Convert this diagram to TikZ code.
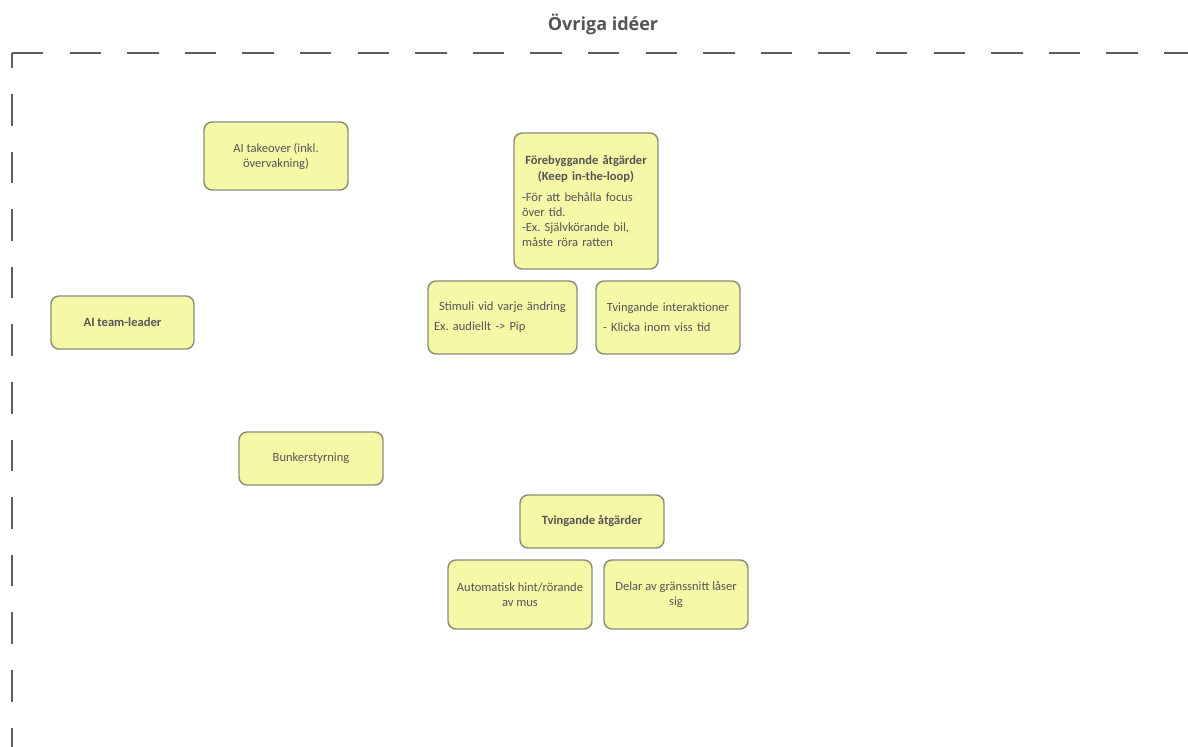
\documentclass[tikz,border=0pt]{standalone}
\usepackage{fontspec}
\setmainfont{Carlito}
\newfontfamily\titlefont{Open Sans}
\definecolor{boxfill}{HTML}{F4F8A7}
\definecolor{boxedge}{HTML}{8E8E78}
\definecolor{ink}{HTML}{555555}
\definecolor{framegray}{HTML}{5E5E5E}
\frenchspacing
\begin{document}
\begin{tikzpicture}[x=0.75pt,y=-0.75pt,
  idea/.style={draw=boxedge, fill=boxfill, line width=1.1pt, rounded corners=6pt,
    inner sep=0pt, text=ink, font=\fontsize{9.4}{11.25}\selectfont},
  hdr/.style={font=\fontsize{9.4}{12}\selectfont\bfseries},
  frameline/.style={draw=framegray, line width=2.2pt,
    dash pattern=on 23.6pt off 19.6pt}]
\useasboundingbox (0,0) rectangle (1188,746);

% title
\node[text=ink, font=\titlefont\fontsize{13.5}{16}\selectfont\bfseries] (title) at (603,24) {Övriga idéer};

% dashed frame (open to the right and bottom)
\coordinate (corner) at (12,53);
\coordinate (frameright) at (1230,53);
\coordinate (framebottom) at (12,790);
\draw[frameline] (corner) -- (frameright);
\draw[frameline, dash phase=12.4pt] (corner) -- (framebottom);

% idea notes
\node[idea, minimum width=108pt, minimum height=51pt, align=center] (takeover) at (276,156)
  {AI takeover (inkl.\\övervakning)};

\node[idea, minimum width=108pt, minimum height=102pt, text width=96pt] (prevent) at (586,201)
  {{\centering\fontsize{9.4}{12}\selectfont\bfseries Förebyggande åtgärder\\(Keep in-the-loop)\par}%
   \vspace{4.5pt}\raggedright
   -För att behålla focus\\över tid.\\-Ex. Självkörande bil,\\måste röra ratten\par};

\node[idea, minimum width=111.75pt, minimum height=54.75pt, text width=102.75pt] (stimuli) at (502.5,317.5)
  {{\centering Stimuli vid varje ändring\par}\vspace{3.75pt}\raggedright
   Ex. audiellt -{}> Pip\par};

\node[idea, minimum width=108pt, minimum height=54.75pt, text width=97.5pt] (interact) at (668,317.5)
  {{\centering Tvingande interaktioner\par}\vspace{3.75pt}\raggedright
   - Klicka inom viss tid\par};

\node[idea, hdr, minimum width=107.25pt, minimum height=39.75pt] (leader) at (122.5,322.5)
  {AI team-leader};

\node[idea, minimum width=108pt, minimum height=39.75pt] (bunker) at (311,458.5)
  {Bunkerstyrning};

\node[idea, hdr, minimum width=108pt, minimum height=39.75pt] (forcing) at (592,521.5)
  {Tvingande åtgärder};

\node[idea, minimum width=108pt, minimum height=51.75pt, align=center] (hint) at (520,594.5)
  {Automatisk hint/rörande\\av mus};

\node[idea, minimum width=108pt, minimum height=51.75pt, align=center] (lock) at (676,594.5)
  {Delar av gränssnitt låser\\sig};
\end{tikzpicture}
\end{document}
